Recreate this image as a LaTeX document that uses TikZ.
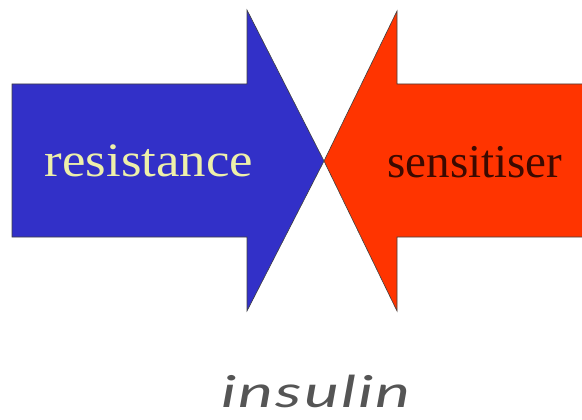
\documentclass[tikz,border=0pt]{standalone}
\usepackage{fontspec}
\setmainfont{Liberation Serif}
\newfontfamily\handfont[LetterSpace=3]{Lato}
\definecolor{arrblue}{RGB}{50,48,200}
\definecolor{arrred}{RGB}{255,52,0}
\definecolor{lighttext}{RGB}{238,240,170}
\definecolor{darktext}{RGB}{60,10,0}
\definecolor{handgray}{RGB}{85,85,85}
\tikzset{
  arrowshape/.style={draw=black!75, line width=0.6pt, line join=miter},
  labeltext/.style={anchor=base, inner sep=0pt, font=\fontsize{48}{50}\selectfont},
}
\begin{document}
\begin{tikzpicture}[x=1pt,y=-1pt]
\useasboundingbox (0,0) rectangle (582,420);
\begin{scope}
\clip (0,0) rectangle (582,420);
\draw[arrowshape, fill=arrblue] (12,84) -- (247,84) -- (247,10) -- (324,161) -- (247,311) -- (247,237) -- (12,237) -- cycle;
\draw[arrowshape, fill=arrred] (590,84) -- (397,84) -- (397,11) -- (324,161) -- (397,311) -- (397,237) -- (590,237) -- cycle;
\end{scope}
\node[labeltext, text=lighttext, xscale=1.1] (res) at (149,177) {resistance};
\node[labeltext, text=darktext, font=\fontsize{47}{50}\selectfont] (sens) at (475,178) {sensitiser};
\node[anchor=base, inner sep=0pt, text=handgray, xscale=1.5, font=\handfont\itshape\fontsize{44}{46}\selectfont] (ins) at (316,407) {insulin};
\end{tikzpicture}
\end{document}
